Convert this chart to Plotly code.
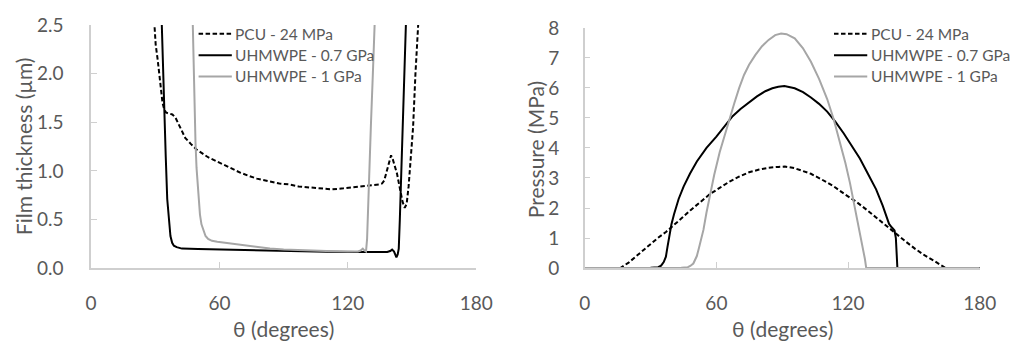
import plotly.graph_objects as go

# ---- Film thickness vs angle (left panel) ----
theta_h_pcu = [29.5, 30.2, 31.1, 32.0, 32.6, 33.4, 34.1, 35.0, 36.4, 38.0, 39.4, 40.5, 41.7, 43.0,
               44.0, 46.5, 49.3, 52.0, 54.7, 58.5, 62.3, 66.0, 69.9, 73.5, 77.5, 83.6, 88.0, 92.7,
               97.0, 101.9, 107.0, 112.5, 118.0, 124.7, 130.0, 134.6, 136.0, 137.0, 138.3, 139.3,
               140.2, 141.0, 142.0, 143.0, 144.5, 145.6, 146.6, 147.5, 148.4, 149.2, 149.8, 150.5,
               151.6, 153.0]
h_pcu = [2.55, 2.30, 2.15, 1.95, 1.84, 1.70, 1.64, 1.60, 1.59, 1.58, 1.55, 1.50, 1.45, 1.38,
         1.34, 1.28, 1.22, 1.18, 1.14, 1.10, 1.06, 1.02, 0.98, 0.95, 0.92, 0.89, 0.87, 0.86,
         0.84, 0.83, 0.82, 0.81, 0.82, 0.84, 0.85, 0.86, 0.87, 0.90, 1.00, 1.10,
         1.16, 1.12, 1.04, 0.97, 0.80, 0.68, 0.62, 0.66, 0.84, 1.10, 1.32, 1.45,
         2.00, 2.55]

theta_h_07 = [33.0, 33.5, 34.1, 34.9, 35.6, 36.3, 37.1, 37.9, 38.7, 40.0, 42.5, 50.0, 60.0, 70.0,
              79.0, 90.0, 100.0, 110.0, 124.7, 135.0, 138.4, 139.8, 140.7, 141.6, 142.7, 143.3,
              143.8, 144.3, 144.8, 145.7, 146.5, 147.2]
h_07 = [2.55, 2.10, 1.67, 1.15, 0.71, 0.48, 0.33, 0.26, 0.23, 0.215, 0.20, 0.195, 0.19, 0.185,
        0.18, 0.175, 0.17, 0.168, 0.165, 0.165, 0.165, 0.175, 0.19, 0.17, 0.11, 0.14,
        0.20, 0.50, 0.84, 1.48, 2.00, 2.55]

theta_h_1 = [47.5, 47.9, 48.3, 48.8, 49.3, 50.1, 50.9, 51.6, 52.4, 53.5, 54.7, 56.5, 59.0, 62.3,
             70.0, 79.0, 83.6, 90.0, 100.0, 110.0, 120.0, 124.7, 126.0, 127.0, 127.8, 128.5,
             129.0, 129.3, 130.0, 130.8, 131.7, 132.6]
h_1 = [2.55, 2.10, 1.67, 1.30, 1.03, 0.75, 0.55, 0.45, 0.39, 0.33, 0.30, 0.28, 0.27, 0.26,
       0.24, 0.21, 0.20, 0.19, 0.18, 0.175, 0.17, 0.17, 0.18, 0.20, 0.18, 0.17,
       0.30, 0.52, 1.00, 1.48, 2.00, 2.55]

# ---- Pressure vs angle (right panel) ----
theta_p_pcu = [0, 10, 16.2, 20, 25.8, 30, 33.3, 37, 40, 44.5, 48.1, 52.5, 57, 61.5, 66, 70.5,
               74.9, 79.5, 83.8, 88.2, 91.2, 95.5, 99, 103.1, 108, 113.5, 118.5, 123.9, 128.5,
               132.8, 137, 141.7, 146, 150.6, 155, 159.5, 162, 164, 166, 180]
p_pcu = [0, 0, 0, 0.18, 0.54, 0.80, 1.00, 1.20, 1.38, 1.68, 1.92, 2.18, 2.46, 2.67, 2.88, 3.05,
         3.19, 3.28, 3.34, 3.37, 3.38, 3.33, 3.24, 3.14, 2.95, 2.72, 2.46, 2.20, 1.94,
         1.68, 1.42, 1.16, 0.90, 0.64, 0.42, 0.23, 0.10, 0.02, 0, 0]

theta_p_07 = [0, 20, 30, 33.5, 34.8, 36, 37, 37.7, 38.5, 39.5, 40.7, 42.8, 45.1, 48, 51.1, 55.5,
              60, 63.5, 67.4, 71, 74.9, 78.5, 82.3, 85.5, 88.2, 91, 95.7, 99.5, 103.1, 106.8,
              110.5, 114.2, 118, 121.7, 125.4, 129, 132.8, 135.8, 138.7, 140, 141.2, 141.8,
              142.2, 142.5, 150, 180]
p_07 = [0, 0, 0.01, 0.03, 0.08, 0.20, 0.38, 0.70, 1.06, 1.45, 1.79, 2.30, 2.72, 3.15, 3.55, 4.00,
        4.38, 4.72, 5.06, 5.30, 5.52, 5.72, 5.89, 5.99, 6.04, 6.06, 5.99, 5.86, 5.68, 5.47,
        5.21, 4.88, 4.49, 4.08, 3.65, 3.15, 2.62, 2.08, 1.47, 1.35, 1.25, 1.00,
        0.40, 0.0, 0, 0]

theta_p_1 = [0, 30, 44, 47, 48.1, 49.5, 50.3, 51.1, 52, 53, 54.1, 55.5, 57, 59, 61.5, 63.8, 66,
             68.2, 70.4, 72.6, 74.9, 77.8, 80.8, 83.8, 86.8, 89.5, 92, 95.7, 99.4, 103.1, 106.8,
             110.5, 113.5, 116.5, 118.8, 120.9, 122.8, 124.6, 125.8, 126.9, 127.7, 128.3, 140, 180]
p_1 = [0, 0, 0.01, 0.03, 0.07, 0.15, 0.25, 0.40, 0.65, 0.95, 1.27, 1.85, 2.41, 3.10, 3.86, 4.45,
       4.97, 5.50, 6.00, 6.43, 6.77, 7.10, 7.39, 7.60, 7.76, 7.81, 7.79, 7.65, 7.33, 6.87, 6.30,
       5.63, 4.95, 4.17, 3.50, 2.83, 2.15, 1.47, 1.05, 0.64, 0.30, 0.0, 0, 0]

series_names = ["PCU - 24 MPa", "UHMWPE - 0.7 GPa", "UHMWPE - 1 GPa"]
x_ticks = [0, 60, 120, 180]

TEXT = "#595959"
AXIS = "#cfcfcf"
FONT = "Lato"

styles = [
    dict(color="black", width=2, dash="4.5px,2.5px"),
    dict(color="black", width=2),
    dict(color="#a6a6a6", width=2),
]

W, H = 1026, 351

def px_x(p):
    return p / W

def px_y(p):
    return 1 - p / H

fig = go.Figure()

left = [(theta_h_pcu, h_pcu), (theta_h_07, h_07), (theta_h_1, h_1)]
right = [(theta_p_pcu, p_pcu), (theta_p_07, p_07), (theta_p_1, p_1)]

for (xs, ys), name, st in zip(left, series_names, styles):
    fig.add_trace(go.Scatter(x=xs, y=ys, mode="lines", name=name, line=st,
                             xaxis="x", yaxis="y", showlegend=False))
for (xs, ys), name, st in zip(right, series_names, styles):
    fig.add_trace(go.Scatter(x=xs, y=ys, mode="lines", name=name, line=st,
                             xaxis="x2", yaxis="y2", showlegend=False))

# Key boxes in the top-right of each panel: a short line sample followed by the series name
legend_rows = [23.3, 46.2, 69]
legend_keys = [(197, 231), (847, 881)]  # start/end of the line sample, in pixels

shapes = []
annotations = []
for k0, k1 in legend_keys:
    for name, st, row in zip(series_names, styles, legend_rows):
        shapes.append(dict(type="line", xref="paper", yref="paper",
                           x0=px_x(k0), x1=px_x(k1), y0=px_y(row), y1=px_y(row),
                           line=st))
        annotations.append(dict(text=name, x=px_x(k1 + 1.5), y=px_y(row), xref="paper", yref="paper",
                                xanchor="left", yanchor="middle", showarrow=False,
                                font=dict(family=FONT, size=15.5, color=TEXT)))

def title(text, x, y, angle=0):
    return dict(text=text, x=px_x(x), y=px_y(y), xref="paper", yref="paper",
                xanchor="center", yanchor="middle", showarrow=False, textangle=angle,
                font=dict(family=FONT, size=21, color=TEXT))

annotations += [
    title("θ (degrees)", 284, 339),
    title("θ (degrees)", 794, 339),
    title("Film thickness (µm)", 18, 144, -90),
    title("Pressure (MPa)", 541, 147, -90),
]

common_axis = dict(
    showline=True, linecolor=AXIS, linewidth=1.5, showgrid=False, zeroline=False,
    ticks="inside", ticklen=6, tickcolor=AXIS, tickwidth=1.2,
    tickfont=dict(family=FONT, size=19, color=TEXT),
)

fig.update_layout(
    width=W, height=H,
    margin=dict(l=0, r=0, t=0, b=0),
    paper_bgcolor="white", plot_bgcolor="white",
    font=dict(family=FONT, color=TEXT),
    showlegend=False,
    xaxis=dict(domain=[px_x(87), px_x(481)], range=[0, 180], tickvals=x_ticks,
               anchor="y", ticklabelstandoff=17, **common_axis),
    yaxis=dict(domain=[px_y(274), px_y(14)], range=[0, 2.5], tickvals=[0, 0.5, 1.0, 1.5, 2.0, 2.5],
               tickformat=".1f", anchor="x", ticklabelstandoff=22, **common_axis),
    xaxis2=dict(domain=[px_x(592), px_x(996)], range=[0, 180], tickvals=x_ticks,
                anchor="y2", ticklabelstandoff=17, **common_axis),
    yaxis2=dict(domain=[px_y(274), px_y(17)], range=[0, 8], dtick=1,
                anchor="x2", ticklabelstandoff=20, **common_axis),
    shapes=shapes,
    annotations=annotations,
)

fig.write_html("out.html")
